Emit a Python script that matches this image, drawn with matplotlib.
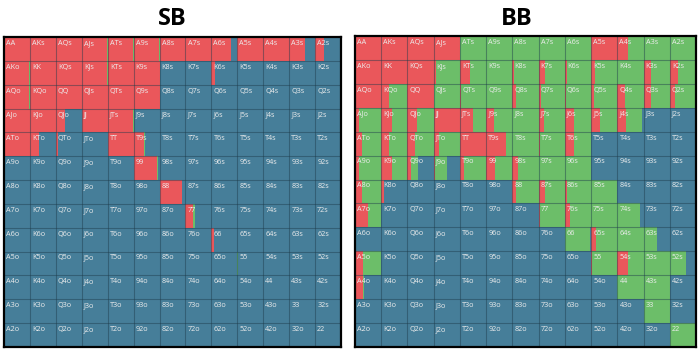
import matplotlib.pyplot as plt

# Rangos de mãos (linha = primeira carta, coluna = segunda)
ranks = ['A', 'K', 'Q', 'J', 'T', '9', '8', '7', '6', '5', '4', '3', '2']

# SB: fração vermelha / verde de cada célula (resto = azul)
sb_red = [
    [1, 1, 1, .97, .97, .97, 1, .97, .75, 1, 1, .6, .35],
    [.97, 1, 1, .97, 1, 1, 0, 0, .15, 0, 0, 0, 0],
    [.97, 1, 1, 1, 1, 1, 0, 0, 0, 0, 0, 0, 0],
    [1, 1, .35, 1, .97, 0, 0, 0, 0, 0, 0, 0, 0],
    [1, .35, .08, 0, 1, .4, 0, 0, 0, 0, 0, 0, 0],
    [0, 0, 0, 0, 0, .9, 0, 0, 0, 0, 0, 0, 0],
    [0, 0, 0, 0, 0, 0, .85, 0, 0, 0, 0, 0, 0],
    [0, 0, 0, 0, 0, 0, 0, .3, 0, 0, 0, 0, 0],
    [0, 0, 0, 0, 0, 0, 0, 0, .12, 0, 0, 0, 0],
    [0, 0, 0, 0, 0, 0, 0, 0, 0, 0, 0, 0, 0],
    [0, 0, 0, 0, 0, 0, 0, 0, 0, 0, 0, 0, 0],
    [0, 0, 0, 0, 0, 0, 0, 0, 0, 0, 0, 0, 0],
    [0, 0, 0, 0, 0, 0, 0, 0, 0, 0, 0, 0, 0],
]
sb_green = [
    [0, 0, 0, .03, .03, .03, 0, .03, 0, 0, 0, 0, 0],
    [.03, 0, 0, .03, 0, 0, 0, 0, 0, 0, 0, 0, 0],
    [.03, 0, 0, 0, 0, 0, 0, 0, 0, 0, 0, 0, 0],
    [0, 0, 0, 0, .03, 0, 0, 0, 0, 0, 0, 0, 0],
    [0, 0, 0, 0, 0, .02, 0, 0, 0, 0, 0, 0, 0],
    [0, 0, 0, 0, 0, .03, 0, 0, 0, 0, 0, 0, 0],
    [0, 0, 0, 0, 0, 0, .03, 0, 0, 0, 0, 0, 0],
    [0, 0, 0, 0, 0, 0, 0, .05, 0, 0, 0, 0, 0],
    [0, 0, 0, 0, 0, 0, 0, 0, 0, 0, 0, 0, 0],
    [0, 0, 0, 0, 0, 0, 0, 0, 0, .02, 0, 0, 0],
    [0, 0, 0, 0, 0, 0, 0, 0, 0, 0, 0, 0, 0],
    [0, 0, 0, 0, 0, 0, 0, 0, 0, 0, 0, 0, 0],
    [0, 0, 0, 0, 0, 0, 0, 0, 0, 0, 0, 0, 0],
]

# BB
bb_red = [
    [1, 1, 1, 1, 0, 0, 0, 0, 0, 1, .4, 0, 0],
    [1, 1, 1, .1, .4, 0, .05, .25, .1, .15, 0, .3, .3],
    [1, .3, 1, 0, .05, 0, .15, .1, .05, .1, .3, .3, .2],
    [.15, .4, .35, 1, .5, .3, 0, .2, .35, .35, .35, 0, 0],
    [.25, .3, .3, .2, 1, .75, 0, .05, .35, 0, 0, 0, 0],
    [.15, .4, .15, .05, .15, .35, .2, 0, 0, 0, 0, 0, 0],
    [.25, .1, 0, 0, 0, 0, .15, .25, .1, 0, 0, 0, 0],
    [.5, 0, 0, 0, 0, 0, 0, .05, .2, 0, 0, 0, 0],
    [.05, 0, 0, 0, 0, 0, 0, 0, 0, .2, 0, 0, 0],
    [.3, 0, 0, 0, 0, 0, 0, 0, 0, .05, .4, 0, 0],
    [.3, 0, 0, 0, 0, 0, 0, 0, 0, 0, 0, 0, 0],
    [.05, 0, 0, 0, 0, 0, 0, 0, 0, 0, 0, 0, 0],
    [0, 0, 0, 0, 0, 0, 0, 0, 0, 0, 0, 0, 0],
]
bb_green = [
    [0, 0, 0, 0, 1, 1, 1, 1, 1, 0, .6, 1, 1],
    [0, 0, 0, .9, .6, 1, .95, .75, .9, .85, 1, .7, .7],
    [0, .7, 0, 1, .95, 1, .85, .9, .95, .9, .7, .7, .8],
    [.85, .6, .65, 0, .5, .7, 1, .8, .65, .65, .6, 0, 0],
    [.75, .7, .7, .8, 0, .25, 1, .95, .65, 0, 0, 0, 0],
    [.85, .6, .25, .45, .85, .65, .8, 1, 1, 0, 0, 0, 0],
    [.75, 0, 0, 0, 0, 0, .85, .75, .9, 1, 0, 0, 0],
    [.5, 0, 0, 0, 0, 0, 0, .95, .8, 1, .85, 0, 0],
    [0, 0, 0, 0, 0, 0, 0, 0, .95, .8, 1, .5, 0],
    [.7, 0, 0, 0, 0, 0, 0, 0, 0, .95, .6, 1, .6],
    [.05, 0, 0, 0, 0, 0, 0, 0, 0, 0, 1, 1, 0],
    [0, 0, 0, 0, 0, 0, 0, 0, 0, 0, 0, 1, 0],
    [0, 0, 0, 0, 0, 0, 0, 0, 0, 0, 0, 0, 1],
]

RED = '#EA575B'
GREEN = '#6CBE69'
BLUE = '#467E99'


def hand(i, j):
    if i == j:
        return ranks[i] + ranks[j]
    if i < j:
        return ranks[i] + ranks[j] + 's'
    return ranks[j] + ranks[i] + 'o'


def draw_grid(ax, red, green):
    for i in range(13):
        r = [red[i][j] for j in range(13)]
        g = [green[i][j] for j in range(13)]
        b = [max(0.0, 1 - r[j] - g[j]) for j in range(13)]
        cols = list(range(13))
        ys = [i + 0.5] * 13
        ax.barh(ys, r, left=cols, height=1, color=RED, linewidth=0)
        ax.barh(ys, g, left=[c + rr for c, rr in zip(cols, r)], height=1,
                color=GREEN, linewidth=0)
        ax.barh(ys, b, left=[c + rr + gg for c, rr, gg in zip(cols, r, g)],
                height=1, color=BLUE, linewidth=0)
        for j in range(13):
            ax.text(j + 0.08, i + 0.12, hand(i, j), fontsize=5.2,
                    color='#EDEDED', va='top', ha='left', family='Open Sans')
    for k in range(1, 13):
        ax.axvline(k, color='#1d3a4a', alpha=0.45, linewidth=0.8)
        ax.axhline(k, color='#1d3a4a', alpha=0.45, linewidth=0.8)
    ax.set_xlim(0, 13)
    ax.set_ylim(13, 0)
    ax.set_xticks([])
    ax.set_yticks([])
    for s in ax.spines.values():
        s.set_linewidth(1.6)
        s.set_color('black')


fig = plt.figure(figsize=(7, 3.51), dpi=100)
ax1 = fig.add_axes([4 / 700, 4 / 351, 337 / 700, 310 / 351])
ax2 = fig.add_axes([355 / 700, 4 / 351, 341 / 700, 311 / 351])
draw_grid(ax1, sb_red, sb_green)
draw_grid(ax2, bb_red, bb_green)

fig.text(172 / 700, 1 - 19 / 351, 'SB', fontsize=17, fontweight='bold',
         ha='center', va='center', family='Open Sans')
fig.text(517 / 700, 1 - 19 / 351, 'BB', fontsize=17, fontweight='bold',
         ha='center', va='center', family='Open Sans')

fig.savefig('out.png', dpi=100)
